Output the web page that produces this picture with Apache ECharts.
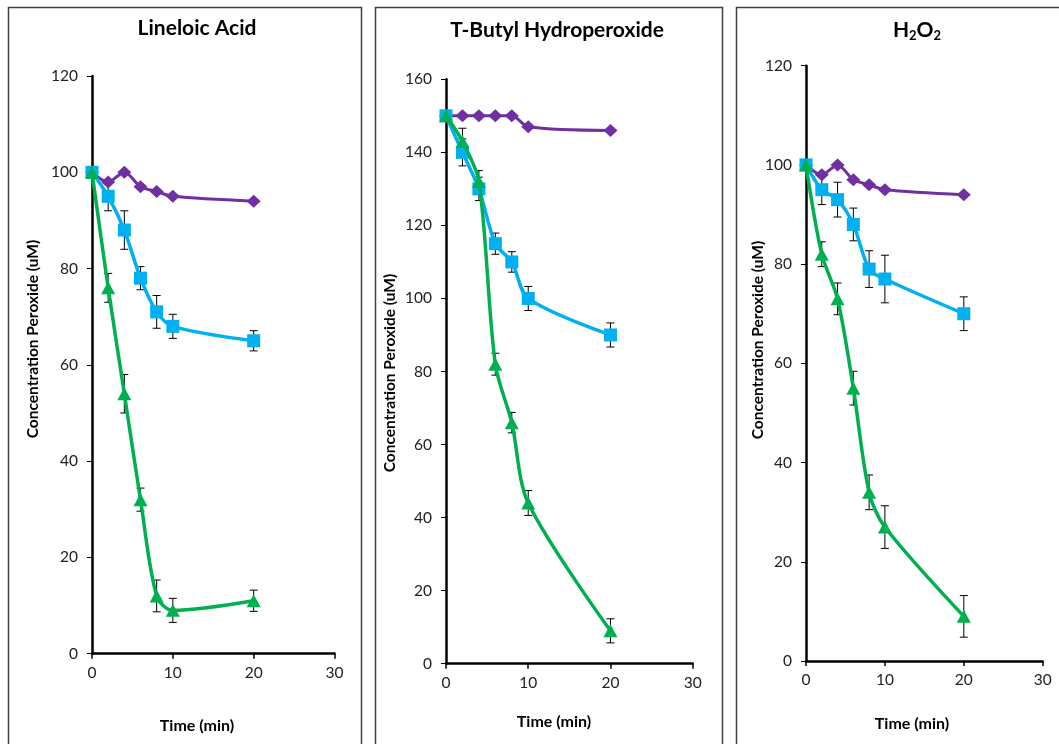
<!DOCTYPE html>
<html><head><meta charset="utf-8">
<script src="https://cdn.jsdelivr.net/npm/echarts@6/dist/echarts.min.js"></script>
<style>html,body{margin:0;padding:0;background:#fff}#c{width:1059px;height:744px}</style>
</head><body><div id="c"></div>
<script>
const TIME = [0, 2, 4, 6, 8, 10, 20];
const X_TICKS = [0, 10, 20, 30];

const LA_PURPLE = [100, 98, 100, 97, 96, 95, 94];
const LA_BLUE = [100, 95, 88, 78, 71, 68, 65];
const LA_BLUE_ERR = [0, 3, 4, 2.4, 3.4, 2.5, 2.1];
const LA_GREEN = [100, 76, 54, 32, 12, 9, 11];
const LA_GREEN_ERR = [0, 3, 4, 2.4, 3.3, 2.5, 2.2];

const TB_PURPLE = [150, 150, 150, 150, 150, 147, 146];
const TB_BLUE = [150, 140, 130, 115, 110, 100, 90];
const TB_BLUE_ERR = [0, 3.7, 3.2, 2.9, 2.8, 3.3, 3.3];
const TB_GREEN = [150, 143, 132, 82, 66, 44, 9];
const TB_GREEN_ERR = [0, 3.6, 3, 3, 2.8, 3.4, 3.3];

const H_PURPLE = [100, 98, 100, 97, 96, 95, 94];
const H_BLUE = [100, 95, 93, 88, 79, 77, 70];
const H_BLUE_ERR = [0, 3, 3.5, 3.3, 3.7, 4.8, 3.4];
const H_GREEN = [100, 82, 73, 55, 34, 27, 9];
const H_GREEN_ERR = [0, 2.5, 3.2, 3.4, 3.5, 4.3, 4.2];

const TITLES = ['Lineloic Acid', 'T-Butyl Hydroperoxide', 'H2O2'];
const Y_NAME = 'Concentration Peroxide (uM)';
const X_NAME = 'Time (min)';
const Y_MAX = [120, 160, 120];

const PANELS = [
  {purple: LA_PURPLE, blue: LA_BLUE, blueErr: LA_BLUE_ERR, green: LA_GREEN, greenErr: LA_GREEN_ERR},
  {purple: TB_PURPLE, blue: TB_BLUE, blueErr: TB_BLUE_ERR, green: TB_GREEN, greenErr: TB_GREEN_ERR},
  {purple: H_PURPLE, blue: H_BLUE, blueErr: H_BLUE_ERR, green: H_GREEN, greenErr: H_GREEN_ERR}
];

const FONT = 'Lato, "Open Sans", sans-serif';
const PURPLE = '#7030A0', BLUE = '#00B0F0', GREEN = '#00B050';

const GRIDS = [
  {left: 92, top: 76, width: 242.5, height: 577.7},
  {left: 446, top: 79.3, width: 246.7, height: 584.4},
  {left: 806, top: 65.7, width: 236.7, height: 595.3}
];

function errRender(params, api) {
  const x = api.value(0), y = api.value(1), e = api.value(2);
  if (!e) return null;
  const top = api.coord([x, y + e]);
  const bot = api.coord([x, y - e]);
  const w = 4;
  const st = {stroke: '#000', lineWidth: 1};
  return {type: 'group', children: [
    {type: 'line', shape: {x1: top[0], y1: top[1], x2: bot[0], y2: bot[1]}, style: st},
    {type: 'line', shape: {x1: top[0] - w, y1: top[1], x2: top[0] + w, y2: top[1]}, style: st},
    {type: 'line', shape: {x1: bot[0] - w, y1: bot[1], x2: bot[0] + w, y2: bot[1]}, style: st}
  ]};
}

const grid = [], xAxis = [], yAxis = [], series = [];
PANELS.forEach((p, i) => {
  grid.push(Object.assign({containLabel: false}, GRIDS[i]));
  xAxis.push({
    type: 'value', gridIndex: i, min: 0, max: 30, interval: 10,
    axisLine: {onZero: false, lineStyle: {color: '#000', width: 2.5}},
    axisTick: {show: true, length: 5, lineStyle: {color: '#000', width: 1.5}},
    axisLabel: {color: '#222', fontSize: 15.5, fontFamily: FONT, margin: 11},
    splitLine: {show: false}
  });
  yAxis.push({
    type: 'value', gridIndex: i, min: 0, max: Y_MAX[i], interval: 20,
    axisLine: {show: true, onZero: false, lineStyle: {color: '#000', width: 2.5}},
    axisTick: {show: true, length: 5, lineStyle: {color: '#000', width: 1}},
    axisLabel: {color: '#222', fontSize: 15.5, fontFamily: FONT, margin: 14},
    splitLine: {show: false}
  });
  const mk = (arr) => TIME.map((t, k) => [t, arr[k]]);
  const mke = (arr, err) => TIME.map((t, k) => [t, arr[k], err[k]]);
  series.push({type: 'custom', xAxisIndex: i, yAxisIndex: i, renderItem: errRender, data: mke(p.blue, p.blueErr), z: 1, silent: true});
  series.push({type: 'custom', xAxisIndex: i, yAxisIndex: i, renderItem: errRender, data: mke(p.green, p.greenErr), z: 1, silent: true});
  series.push({type: 'line', name: 'Series 1', xAxisIndex: i, yAxisIndex: i, data: mk(p.purple), smooth: 0.3,
    symbol: 'diamond', symbolSize: [14, 13], lineStyle: {color: PURPLE, width: 3}, itemStyle: {color: PURPLE}, z: 3});
  series.push({type: 'line', name: 'Series 2', xAxisIndex: i, yAxisIndex: i, data: mk(p.blue), smooth: 0.3,
    symbol: 'rect', symbolSize: [13, 13], lineStyle: {color: BLUE, width: 3.5}, itemStyle: {color: BLUE}, z: 3});
  series.push({type: 'line', name: 'Series 3', xAxisIndex: i, yAxisIndex: i, data: mk(p.green), smooth: 0.3,
    symbol: 'triangle', symbolSize: [14, 13], lineStyle: {color: GREEN, width: 3.5}, itemStyle: {color: GREEN}, z: 4});
});

const titleStyle = {font: 'bold 21px ' + FONT, fill: '#000', align: 'center', verticalAlign: 'middle'};
const yNameStyle = {font: 'bold 15.5px ' + FONT, fill: '#000', align: 'center', verticalAlign: 'middle'};
const xNameStyle = {font: 'bold 16px ' + FONT, fill: '#000', align: 'center', verticalAlign: 'middle'};
const graphic = [
  {type: 'rect', shape: {x: 8.5, y: 7.5, width: 353, height: 780}, style: {fill: 'none', stroke: '#404040', lineWidth: 1.5}, silent: true},
  {type: 'rect', shape: {x: 375.5, y: 7.5, width: 347, height: 780}, style: {fill: 'none', stroke: '#404040', lineWidth: 1.5}, silent: true},
  {type: 'rect', shape: {x: 736.5, y: 7.5, width: 400, height: 780}, style: {fill: 'none', stroke: '#404040', lineWidth: 1.5}, silent: true},
  {type: 'text', x: 197, y: 28, style: Object.assign({text: TITLES[0]}, titleStyle)},
  {type: 'text', x: 557, y: 30, style: Object.assign({text: TITLES[1]}, titleStyle)},
  {type: 'text', x: 917, y: 30, style: {
    text: '{b|H}{s|2}{b|O}{s|2}', align: 'center', verticalAlign: 'middle',
    rich: {b: {font: 'bold 21px ' + FONT, fill: '#000'}, s: {font: 'bold 13px ' + FONT, fill: '#000', padding: [11, 0, 0, 0]}}
  }},
  {type: 'text', x: 33, y: 339, rotation: Math.PI / 2, style: Object.assign({text: Y_NAME}, yNameStyle)},
  {type: 'text', x: 390, y: 373, rotation: Math.PI / 2, style: Object.assign({text: Y_NAME}, yNameStyle)},
  {type: 'text', x: 758, y: 340, rotation: Math.PI / 2, style: Object.assign({text: Y_NAME}, yNameStyle)},
  {type: 'text', x: 197, y: 726, style: Object.assign({text: X_NAME}, xNameStyle)},
  {type: 'text', x: 554, y: 722, style: Object.assign({text: X_NAME}, xNameStyle)},
  {type: 'text', x: 912, y: 724, style: Object.assign({text: X_NAME}, xNameStyle)}
];

const chart = echarts.init(document.getElementById('c'), null, {renderer: 'canvas'});
chart.setOption({animation: false, backgroundColor: '#fff', grid, xAxis, yAxis, series, graphic});
</script>
</body></html>
